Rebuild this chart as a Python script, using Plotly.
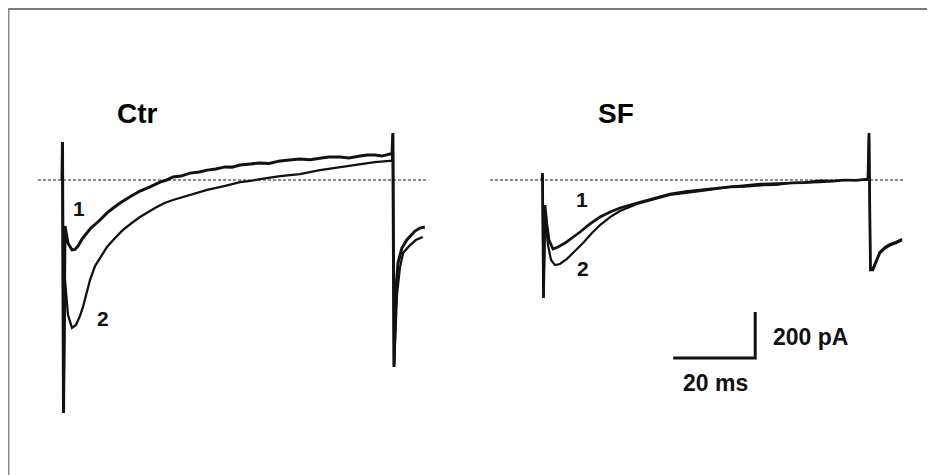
import plotly.graph_objects as go

# ---------------- data (time in ms from stimulus, current in pA) ----------------
# Control (Ctr) panel
ctr1_t = [0, 0.12, 0.37, 0.73, 1.46, 2.44, 3.17, 3.90, 4.88, 6.83, 9.27, 10.98, 12.5, 14.15,
          16.5, 19.02, 21.5, 23.9, 25.5, 27.07, 29.0, 31.2, 33.5, 35.4, 37.5, 39.8, 41.5, 43.4,
          46.0, 48.3, 50.5, 53.2, 55.5, 58.0, 60.5, 62.9, 65.0, 67.8, 70.0, 72.7, 74.5, 76.3,
          78.0, 80.0, 80.5, 80.7, 80.98, 81.46, 81.95, 82.9, 84.1, 86.1, 87.3, 88.5]
ctr1_i = [0, 165, -1013, -200, -275, -304, -302, -287, -257, -213, -174, -143, -122, -100,
          -74, -48, -30, -9, 0, 13, 17, 30, 35, 43, 48, 57, 56, 65,
          70, 74, 72, 83, 87, 91, 88, 96, 100, 100, 96, 104, 109, 109,
          104, 113, 113, 204, -813, -478, -361, -296, -261, -222, -209, -204]

ctr2_t = [0, 0.12, 0.37, 0.73, 1.46, 2.44, 3.41, 4.39, 5.12, 6.10, 6.83, 8.05, 9.27, 10.98,
          12.93, 14.88, 17.0, 19.02, 22.68, 25.0, 27.07, 31.2, 35.4, 39.8, 43.4, 46.0, 48.3,
          53.2, 58.0, 62.9, 67.8, 72.7, 76.3, 80.0, 80.5, 80.7, 80.98, 81.7, 82.4, 83.2,
          84.9, 86.3, 88.0]
ctr2_i = [0, 152, -1000, -435, -587, -643, -630, -591, -552, -491, -435, -374, -339, -291,
          -252, -217, -187, -161, -122, -100, -87, -65, -43, -26, -9, -4, 4,
          17, 26, 43, 57, 70, 78, 83, 83, 196, -804, -500, -383, -317,
          -283, -261, -248]

# Sodium fluoride (SF) panel
sf1_t = [0, 0.12, 0.37, 0.73, 1.22, 1.71, 2.68, 3.90, 5.61, 7.32, 9.27, 11.7, 14.15, 16.6,
         19.0, 23.2, 27.6, 31.2, 35.0, 38.5, 42.0, 45.9, 49.5, 53.2, 57.0, 60.5, 64.0, 67.8,
         71.0, 73.9, 76.5, 79.0, 79.5, 79.76, 80.1, 80.7, 81.5, 82.4, 83.7, 84.9, 86.3, 87.8]
sf1_i = [0, 30, -513, -109, -196, -261, -300, -291, -274, -252, -226, -191, -161, -139,
         -122, -100, -78, -61, -50, -43, -39, -30, -28, -22, -20, -13, -11, -4,
         -5, 0, -2, 4, 4, 204, -391, -391, -357, -317, -296, -283, -274, -261]

sf2_t = [0, 0.12, 0.37, 0.73, 1.46, 2.2, 3.17, 4.39, 6.10, 8.05, 10.0, 12.2, 14.15, 16.6,
         19.0, 23.2, 27.6, 31.2, 38.5, 45.9, 53.2, 60.5, 67.8, 73.9, 79.0, 79.5, 79.76,
         80.1, 80.7, 81.5, 82.4, 83.7, 84.9, 86.3, 87.8]
sf2_i = [0, 22, -504, -152, -283, -348, -370, -365, -343, -309, -274, -230, -196, -161,
         -135, -104, -83, -65, -48, -30, -17, -13, -9, 0, 0, 0, 196,
         -383, -383, -352, -313, -291, -278, -270, -257]

# baseline extents (ms) and scale bar (20 ms, 200 pA)
ctr_base_t = [-5.85, 89.3]
sf_base_t = [-12.7, 88.5]
baseline_i = [0, 0]
scale_ms = 20
scale_pa = 200
scale_origin = (32.0, -774)

# labels
panel_labels = ["Ctr", "SF"]
trace_labels = ["1", "2"]

# ---------------- figure ----------------
PX_MS = 4.1      # pixels per ms
PX_PA = 0.23     # pixels per pA
OFF = 8          # page offset of the plot div
W, H = 935 - OFF, 475 - OFF
Y0 = 180 - OFF   # baseline pixel row inside the figure
ctr_x0, sf_x0 = 62 - OFF, 542 - OFF

fig = go.Figure()

def line(x, y, axis, w, color="#111111", dash=None):
    fig.add_trace(go.Scatter(x=x, y=y, xaxis=axis, yaxis="y", mode="lines",
                             line=dict(color=color, width=w, dash=dash),
                             hoverinfo="skip", showlegend=False))

# dotted baselines
line(ctr_base_t, baseline_i, "x", 2, color="#8c8c8c", dash="3px,2px")
line(sf_base_t, baseline_i, "x2", 2, color="#8c8c8c", dash="3px,2px")

# traces
line(ctr2_t, ctr2_i, "x", 2.3)
line(ctr1_t, ctr1_i, "x", 3.0)
line(sf2_t, sf2_i, "x2", 2.2)
line(sf1_t, sf1_i, "x2", 2.7)

# scale bar
sx, sy = scale_origin
line([sx, sx + scale_ms, sx + scale_ms], [sy, sy, sy + scale_pa], "x2", 3)

font = "Liberation Sans, Arial, sans-serif"
ann = []
ann.append(dict(x=18.5, y=291, xref="x", yref="y", text="<b>%s</b>" % panel_labels[0],
                showarrow=False, font=dict(family=font, size=28, color="#000")))
ann.append(dict(x=18.0, y=291, xref="x2", yref="y", text="<b>%s</b>" % panel_labels[1],
                showarrow=False, font=dict(family=font, size=28, color="#000")))
for (xx, yy, ax, t) in [(4.1, -122, "x", trace_labels[0]), (10.0, -600, "x", trace_labels[1]),
                        (9.8, -83, "x2", trace_labels[0]), (10.0, -383, "x2", trace_labels[1])]:
    ann.append(dict(x=xx, y=yy, xref=ax, yref="y", text="<b>%s</b>" % t, showarrow=False,
                    font=dict(family=font, size=21, color="#111")))
ann.append(dict(x=65.4, y=-683, xref="x2", yref="y", text="<b>%d pA</b>" % scale_pa,
                showarrow=False, font=dict(family=font, size=23, color="#111")))
ann.append(dict(x=42.4, y=-883, xref="x2", yref="y", text="<b>%d ms</b>" % scale_ms,
                showarrow=False, font=dict(family=font, size=23, color="#111")))

shapes = [
    dict(type="line", xref="paper", yref="paper", x0=0, x1=1, y0=1 - 1 / H, y1=1 - 1 / H,
         line=dict(color="#7a7a7a", width=2)),
    dict(type="line", xref="paper", yref="paper", x0=0.75 / W, x1=0.75 / W, y0=0, y1=1,
         line=dict(color="#8a8a8a", width=1.5)),
]

fig.update_layout(
    width=W, height=H, autosize=False,
    margin=dict(l=0, r=0, t=0, b=0),
    paper_bgcolor="white", plot_bgcolor="white",
    xaxis=dict(range=[-ctr_x0 / PX_MS, (W - ctr_x0) / PX_MS], domain=[0, 1], visible=False),
    xaxis2=dict(range=[-sf_x0 / PX_MS, (W - sf_x0) / PX_MS], domain=[0, 1], visible=False,
                overlaying="x"),
    yaxis=dict(range=[-(H - Y0) / PX_PA, Y0 / PX_PA], domain=[0, 1], visible=False),
    annotations=ann, shapes=shapes,
)

fig.write_html("out.html")
